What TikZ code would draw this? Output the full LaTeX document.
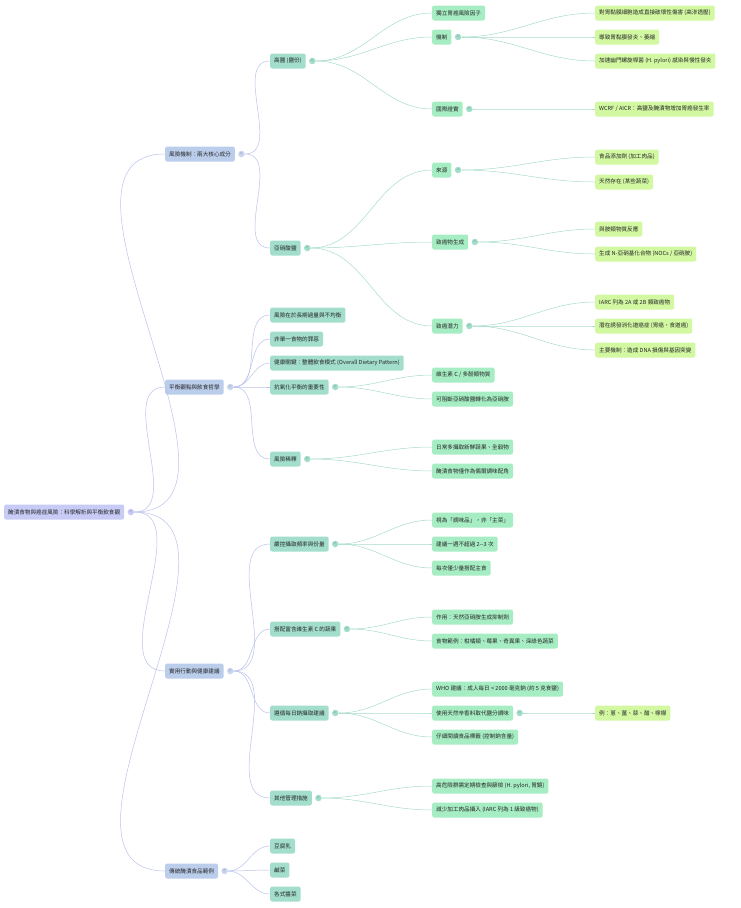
\documentclass[tikz,border=0pt]{standalone}
\usepackage{fontspec}
\newfontfamily\cjk{Noto Sans CJK TC}
\usetikzlibrary{positioning}
\definecolor{rootc}{HTML}{C8CBF6}
\definecolor{blue1}{HTML}{BACDEB}
\definecolor{teal2}{HTML}{A2DECB}
\definecolor{green3}{HTML}{A6EDC3}
\definecolor{lime4}{HTML}{D2F8A2}
\definecolor{lineb}{HTML}{BBC2EA}
\definecolor{lineg}{HTML}{A6DCC6}
\tikzset{
  box/.style={anchor=west, rounded corners=2pt, inner xsep=4pt, minimum height=15pt,
    font=\cjk\fontsize{5.6}{6}\selectfont, text=black!85},
  root/.style={box, fill=rootc},
  lv1/.style={box, fill=blue1},
  lv2/.style={box, fill=teal2},
  lv3/.style={box, fill=green3},
  lv4/.style={box, fill=lime4},
  tog/.style={circle, inner sep=0pt, minimum size=6.5pt, right=3pt of #1,
    font=\fontsize{3.5}{3.5}\selectfont, text=black!60},
  tb/.style={tog=#1, fill=blue1!80},
  tg/.style={tog=#1, fill=teal2},
  linkb/.style={draw=lineb, line width=0.5pt, out=0, in=180},
  linkg/.style={draw=lineg, line width=0.5pt, out=0, in=180}
}
\begin{document}
\begin{tikzpicture}[x=1pt,y=-1pt]
  \useasboundingbox (0,0) rectangle (740,908);

  % root
  \node[root] (r) at (4,512) {醃漬食物與癌症風險：科學解析與平衡飲食觀};
  \node[tog=r, fill=rootc] (tr) {<};

  % level 1
  \node[lv1] (risk) at (165,154) {風險機制：兩大核心成分};
  \node[lv1] (bal) at (165,387) {平衡觀點與飲食哲學};
  \node[lv1] (act) at (165,671) {實用行動與健康建議};
  \node[lv1] (trad) at (165,871) {傳統醃漬食品範例};
  \node[tb=risk] (trisk) {<};
  \node[tb=bal] (tbal) {<};
  \node[tb=act] (tact) {<};
  \node[tb=trad] (ttrad) {<};

  % level 2
  \node[lv2] (salt) at (270,61) {高鹽 (鹽份)};
  \node[lv2] (nitr) at (270,248) {亞硝酸鹽};
  \node[lv2] (b1) at (270,315) {風險在於長期過量與不均衡};
  \node[lv2] (b2) at (270,339) {非單一食物的罪惡};
  \node[lv2] (b3) at (270,363) {健康關鍵：整體飲食模式 (Overall Dietary Pattern)};
  \node[lv2] (anti) at (270,387) {抗氧化平衡的重要性};
  \node[lv2] (dilu) at (270,459) {風險稀釋};
  \node[lv2] (freq) at (270,544) {嚴控攝取頻率與份量};
  \node[lv2] (vitc) at (270,629) {搭配富含維生素 C 的蔬果};
  \node[lv2] (sod) at (270,713) {遵循每日鈉攝取建議};
  \node[lv2] (other) at (270,798) {其他管理措施};
  \node[lv2] (tofu) at (270,846) {豆腐乳};
  \node[lv2] (xian) at (270,870) {鹹菜};
  \node[lv2] (jiang) at (270,894) {各式醬菜};
  \foreach \n in {salt,nitr,anti,dilu,freq,vitc,sod,other}
    \node[tg=\n] (t\n) {<};

  % level 3
  \node[lv3] (s1) at (432,13) {獨立胃癌風險因子};
  \node[lv3] (mech) at (432,37) {機制};
  \node[lv3] (intl) at (432,109) {國際證實};
  \node[lv3] (src) at (432,170) {來源};
  \node[lv3] (gen) at (432,242) {致癌物生成};
  \node[lv3] (pot) at (432,326) {致癌潛力};
  \node[lv3] (a1) at (432,375) {維生素 C / 多酚類物質};
  \node[lv3] (a2) at (432,399) {可阻斷亞硝酸鹽轉化為亞硝胺};
  \node[lv3] (d1) at (432,447) {日常多攝取新鮮蔬果、全穀物};
  \node[lv3] (d2) at (432,471) {醃漬食物僅作為偶爾調味配角};
  \node[lv3] (f1) at (432,520) {視為「調味品」，非「主菜」};
  \node[lv3] (f2) at (432,544) {建議一週不超過 2--3 次};
  \node[lv3] (f3) at (432,568) {每次僅少量搭配主食};
  \node[lv3] (v1) at (432,617) {作用：天然亞硝胺生成抑制劑};
  \node[lv3] (v2) at (432,641) {食物範例：柑橘類、莓果、奇異果、深綠色蔬菜};
  \node[lv3] (w1) at (432,689) {WHO 建議：成人每日 < 2000 毫克鈉 (約 5 克食鹽)};
  \node[lv3] (w2) at (432,713) {使用天然辛香料取代鹽分調味};
  \node[lv3] (w3) at (432,737) {仔細閱讀食品標籤 (控制鈉含量)};
  \node[lv3] (o1) at (432,786) {高危險群需定期檢查與篩檢 (H. pylori, 胃鏡)};
  \node[lv3] (o2) at (432,810) {減少加工肉品攝入 (IARC 列為 1 級致癌物)};
  \foreach \n in {mech,intl,src,gen,pot,w2}
    \node[tg=\n] (t\n) {<};

  % level 4
  \node[lv4] (m1) at (595,13) {對胃黏膜細胞造成直接破壞性傷害 (高滲透壓)};
  \node[lv4] (m2) at (595,37) {導致胃黏膜發炎、萎縮};
  \node[lv4] (m3) at (595,61) {加速幽門螺旋桿菌 (H. pylori) 感染與慢性發炎};
  \node[lv4] (i1) at (595,109) {WCRF / AICR：高鹽及醃漬物增加胃癌發生率};
  \node[lv4] (c1) at (595,157) {食品添加劑 (加工肉品)};
  \node[lv4] (c2) at (595,182) {天然存在 (某些蔬菜)};
  \node[lv4] (g1) at (595,229) {與胺類物質反應};
  \node[lv4] (g2) at (595,254) {生成 N-亞硝基化合物 (NOCs / 亞硝胺)};
  \node[lv4] (p1) at (595,302) {IARC 列為 2A 或 2B 類致癌物};
  \node[lv4] (p2) at (595,326) {潛在誘發消化道癌症 (胃癌、食道癌)};
  \node[lv4] (p3) at (595,350) {主要機制：造成 DNA 損傷與基因突變};
  \node[lv4] (e1) at (595,713) {例：蔥、薑、蒜、醋、檸檬};

  % connectors
  \foreach \a/\b in {tr/risk,tr/bal,tr/act,tr/trad,
      trisk/salt,trisk/nitr,tbal/b1,tbal/b2,tbal/b3,tbal/anti,tbal/dilu,
      tact/freq,tact/vitc,tact/sod,tact/other,ttrad/tofu,ttrad/xian,ttrad/jiang}
    \draw[linkb] (\a) to (\b.west);
  \foreach \a/\b in {tsalt/s1,tsalt/mech,tsalt/intl,tnitr/src,tnitr/gen,tnitr/pot,
      tanti/a1,tanti/a2,tdilu/d1,tdilu/d2,tfreq/f1,tfreq/f2,tfreq/f3,
      tvitc/v1,tvitc/v2,tsod/w1,tsod/w2,tsod/w3,tother/o1,tother/o2,
      tmech/m1,tmech/m2,tmech/m3,tintl/i1,tsrc/c1,tsrc/c2,tgen/g1,tgen/g2,
      tpot/p1,tpot/p2,tpot/p3,tw2/e1}
    \draw[linkg] (\a) to (\b.west);

\end{tikzpicture}
\end{document}
